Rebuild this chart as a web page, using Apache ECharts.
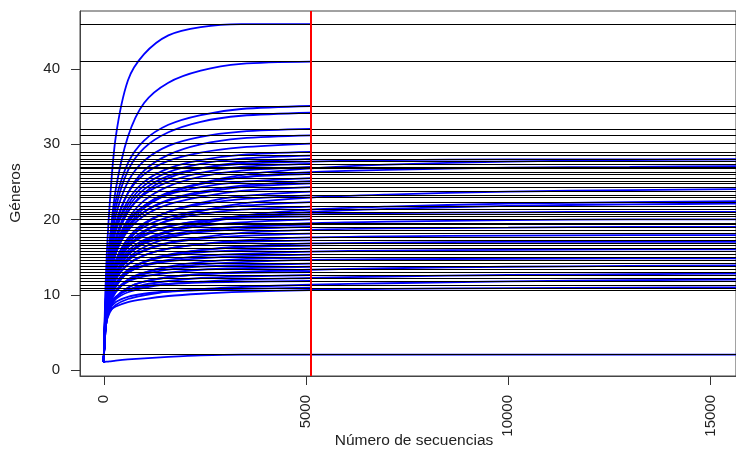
<!DOCTYPE html>
<html>
<head>
    <meta charset="utf-8">
    <title>Curvas de rarefacción</title>
    <script src="https://cdn.jsdelivr.net/npm/echarts@6/dist/echarts.min.js"></script>
</head>
<body style="margin:0">
    <div id="main" style="width: 736px;height:450px;"></div>
    <script type="text/javascript">

// puntos de lectura en el eje x (número de secuencias)
var knotX = [1, 60, 150, 300, 600, 1000, 1600, 2400, 3400, 5120];
var knotXLong = [7000, 10000, 13000, 16000];
var sampleDepth = 5120;
var xTicks = [0, 5000, 10000, 15000];
var yTicks = [0, 10, 20, 30, 40];

// muestras que terminan en la línea roja
var shortCurves = [
    [1, 13, 22, 31, 38.5, 42, 44.5, 45.6, 46, 46],
    [1, 10, 17, 24, 31, 35.5, 38.2, 39.8, 40.7, 41],
    [1, 11, 17, 22.5, 27.5, 30.5, 32.6, 33.9, 34.7, 35.1],
    [1, 10, 16, 21.5, 26.5, 29.5, 31.6, 33, 33.8, 34.2],
    [1, 10, 15.5, 20.5, 25, 27.8, 29.8, 31, 31.7, 32.05],
    [1, 9, 14, 19, 23.5, 26.5, 28.6, 30, 30.8, 31.2],
    [1, 10, 15, 19.5, 23.5, 26, 27.8, 28.9, 29.6, 30.1],
    [1, 9, 14, 18.5, 22.5, 25, 26.8, 27.9, 28.6, 29.0],
    [1, 9.5, 14.5, 18.5, 22, 24.5, 26.3, 27.4, 28.1, 28.5],
    [1, 8.5, 13, 17, 21, 23.5, 25.5, 26.8, 27.6, 28.05],
    [1, 9, 13.5, 17.5, 21, 23.3, 25, 26.2, 27, 27.4],
    [1, 8, 12.5, 16.5, 20, 22.5, 24.4, 25.7, 26.5, 27.0],
    [1, 8, 12, 16, 19.5, 21.8, 23.6, 24.8, 25.6, 26.05],
    [1, 9, 13, 16.5, 19.8, 21.8, 23.3, 24.3, 25, 25.5],
    [1, 8, 12, 15.5, 18.8, 21, 22.6, 23.7, 24.5, 25.1],
    [1, 8.5, 12.5, 16, 19, 21, 22.5, 23.5, 24.3, 24.8],
    [1, 8, 12, 15.5, 18.5, 20.5, 22, 23, 23.8, 24.3],
    [1, 7, 10.5, 14, 17, 19.3, 21, 22.2, 23.1, 23.7],
    [1, 7.5, 11, 14.5, 17.5, 19.5, 21, 22, 22.7, 23.2],
    [1, 8, 11.5, 14.5, 17.3, 19, 20.3, 21.2, 21.8, 22.3],
    [1, 7.5, 11, 14, 16.8, 18.5, 19.8, 20.7, 21.3, 21.7],
    [1, 8, 11, 14, 16.5, 18, 19.1, 19.8, 20.2, 20.4],
    [1, 7.5, 10.5, 13.5, 15.8, 17.3, 18.4, 19.1, 19.6, 20.0],
    [1, 7, 10, 12.8, 15.2, 16.8, 17.9, 18.6, 19.0, 19.3],
    [1, 8, 11, 13.5, 15.5, 16.8, 17.7, 18.3, 18.7, 19.0],
    [1, 7, 10, 12.5, 14.5, 15.8, 16.8, 17.4, 17.8, 18.1],
    [1, 7.5, 10, 12.2, 14.0, 15.2, 16.1, 16.7, 17.0, 17.2],
    [1, 6.5, 9, 11.2, 13.2, 14.4, 15.3, 15.9, 16.3, 16.5],
    [1, 7, 9.5, 11.5, 13.3, 14.3, 15.1, 15.6, 15.9, 16.1],
    [1, 7.5, 9.8, 11.5, 12.9, 13.8, 14.4, 14.8, 15.1, 15.3],
    [1, 6, 8.5, 10.3, 11.9, 12.9, 13.7, 14.3, 14.7, 14.9],
    [1, 6.5, 8.8, 10.5, 11.8, 12.7, 13.3, 13.7, 13.9, 14.1],
    [1, 7, 9, 10.5, 11.7, 12.4, 12.9, 13.3, 13.5, 13.7],
    [1, 6, 8, 9.6, 10.9, 11.7, 12.3, 12.7, 12.9, 13.0],
    [1, 6.5, 8.3, 9.6, 10.6, 11.3, 11.8, 12.2, 12.4, 12.6],
    [1, 7, 8.6, 9.7, 10.6, 11.1, 11.4, 11.6, 11.7, 11.8],
    [1, 6.5, 8, 9, 9.7, 10.1, 10.4, 10.6, 10.75, 10.9]
];

// muestras que siguen más allá de la línea roja
var longCurves = [
    [1, 9, 13.5, 17.5, 21.5, 24, 25.8, 26.8, 27.4, 27.7, 27.9, 28, 28, 28],
    [1, 8, 12, 15.5, 19, 21.5, 23.4, 24.8, 25.9, 26.8, 27.3, 27.7, 27.9, 28],
    [1, 8.5, 12.5, 16, 19.5, 21.8, 23.5, 24.7, 25.6, 26.3, 26.6, 26.9, 27.0, 27.1],
    [1, 7, 10.5, 13.5, 16.3, 18.3, 19.9, 21.1, 22.1, 22.9, 23.3, 23.7, 23.9, 24.05],
    [1, 7, 10, 12.8, 15.3, 17.1, 18.5, 19.6, 20.5, 21.3, 21.7, 22.1, 22.3, 22.45],
    [1, 7.5, 10.5, 13, 15.3, 17, 18.3, 19.4, 20.3, 21.0, 21.4, 21.8, 22.0, 22.1],
    [1, 8, 11, 13.8, 16.3, 17.8, 19, 19.8, 20.3, 20.7, 20.85, 20.95, 21, 21],
    [1, 7, 10, 12.5, 14.8, 16.3, 17.5, 18.4, 19.0, 19.5, 19.7, 19.9, 20, 20],
    [1, 7.5, 10.3, 12.6, 14.6, 15.9, 16.9, 17.6, 18.2, 18.6, 18.8, 18.9, 19, 19],
    [1, 7, 9.8, 12, 14, 15.2, 16.1, 16.7, 17.2, 17.6, 17.75, 17.85, 17.9, 17.9],
    [1, 6.5, 9, 11, 13, 14.3, 15.2, 15.9, 16.4, 16.8, 16.9, 17, 17, 17],
    [1, 7, 9.3, 11.2, 12.9, 13.9, 14.6, 15.1, 15.4, 15.7, 15.85, 15.95, 16, 16],
    [1, 6.5, 8.7, 10.5, 12, 12.9, 13.6, 14.0, 14.3, 14.6, 14.7, 14.75, 14.8, 14.8],
    [1, 6, 8, 9.6, 10.9, 11.7, 12.3, 12.7, 13.0, 13.3, 13.5, 13.7, 13.8, 13.9],
    [1, 6.5, 8.2, 9.4, 10.3, 10.9, 11.4, 11.7, 12.0, 12.2, 12.4, 12.6, 12.7, 12.8],
    [1, 6, 7.6, 8.6, 9.4, 9.9, 10.4, 10.7, 11.0, 11.3, 11.5, 11.75, 11.9, 12.0],
    [1, 6.5, 7.8, 8.4, 9.0, 9.4, 9.8, 10.1, 10.35, 10.6, 10.75, 10.85, 10.92, 10.95],
    [1, 1.05, 1.1, 1.2, 1.35, 1.5, 1.7, 1.9, 2.0, 2.0, 2, 2, 2, 2]
];

var myChart = echarts.init(document.getElementById('main'));

var allX = knotX.concat(knotXLong);
var series = [];
var hLines = [];
var FONT = 'Liberation Sans';

function addCurve(vals, xs) {
    var pts = [];
    for (var i = 0; i < vals.length; i++) {
        pts.push([xs[i], vals[i]]);
    }
    hLines.push({ yAxis: vals[knotX.length - 1] });
    series.push({
        type: 'line',
        data: pts,
        showSymbol: false,
        smooth: 0.3,
        lineStyle: { color: '#0000FF', width: 1.8 },
        silent: true,
        z: 2
    });
}
shortCurves.forEach(function (c) { addCurve(c, knotX); });
longCurves.forEach(function (c) { addCurve(c, allX); });

// líneas horizontales (riqueza rarefactada) y línea roja
series.push({
    type: 'line',
    data: [],
    silent: true,
    z: 5,
    markLine: {
        silent: true,
        symbol: 'none',
        label: { show: false },
        lineStyle: { color: '#000000', width: 1, type: 'solid' },
        data: hLines,
        animation: false
    }
});
series.push({
    type: 'line',
    data: [],
    silent: true,
    z: 6,
    markLine: {
        silent: true,
        symbol: 'none',
        label: { show: false },
        lineStyle: { color: '#FF0000', width: 2, type: 'solid' },
        data: [{ xAxis: sampleDepth }],
        animation: false
    }
});

var option = {
    animation: false,
    backgroundColor: '#FFFFFF',
    grid: {
        left: 80, top: 11, width: 668, height: 365,
        show: true, borderColor: '#444444', borderWidth: 1
    },
    xAxis: {
        type: 'value',
        min: -584, max: 15631,
        axisLine: { show: true, onZero: false, lineStyle: { color: '#444444', width: 1 } },
        splitLine: { show: false },
        axisTick: { show: false },
        axisLabel: {
            customValues: xTicks,
            formatter: function (v) { return String(v); },
            rotate: 90, margin: 19,
            fontFamily: FONT, fontSize: 15, color: '#222222'
        }
    },
    yAxis: {
        type: 'value',
        min: -0.85, max: 47.75,
        axisLine: { show: true, onZero: false, lineStyle: { color: '#444444', width: 1 } },
        splitLine: { show: false },
        axisTick: { show: false },
        axisLabel: {
            customValues: yTicks,
            formatter: function (v) { return String(v); },
            margin: 20,
            fontFamily: FONT, fontSize: 15, color: '#222222'
        }
    },
    graphic: [
        {
            type: 'text', x: 414, y: 441,
            style: {
                text: 'Número de secuencias', x: 0, y: 0,
                fontFamily: FONT, fontSize: 15.5, fill: '#222222',
                align: 'center', verticalAlign: 'middle'
            }
        },
        {
            type: 'text', x: 16, y: 193, rotation: Math.PI / 2,
            style: {
                text: 'Géneros', x: 0, y: 0,
                fontFamily: FONT, fontSize: 15.5, fill: '#222222',
                align: 'center', verticalAlign: 'middle'
            }
        }
    ],
    series: series
};

myChart.setOption(option);

// marcas de los ejes, situadas con la escala del propio gráfico
var tickMarks = [];
var TICK = 9;
xTicks.forEach(function (v) {
    var p = myChart.convertToPixel({ gridIndex: 0 }, [v, -0.85]);
    tickMarks.push({
        type: 'line', silent: true, z: 10,
        shape: { x1: Math.round(p[0]) + 0.5, y1: p[1], x2: Math.round(p[0]) + 0.5, y2: p[1] + TICK },
        style: { stroke: '#333333', lineWidth: 1 }
    });
});
yTicks.forEach(function (v) {
    var p = myChart.convertToPixel({ gridIndex: 0 }, [-584, v]);
    tickMarks.push({
        type: 'line', silent: true, z: 10,
        shape: { x1: p[0] - TICK, y1: Math.round(p[1]) + 0.5, x2: p[0], y2: Math.round(p[1]) + 0.5 },
        style: { stroke: '#333333', lineWidth: 1 }
    });
});
myChart.setOption({ graphic: option.graphic.concat(tickMarks) });

    </script>
</body>
</html>
